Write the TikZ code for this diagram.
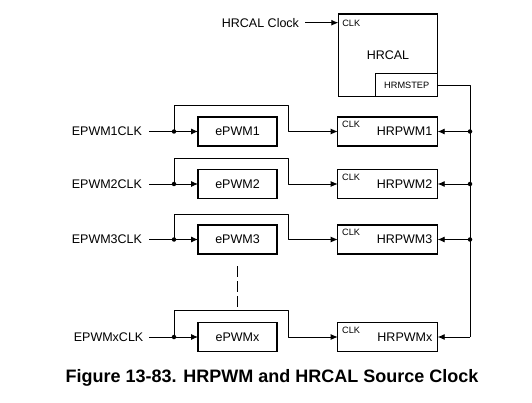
\documentclass[tikz,border=0pt]{standalone}
\usepackage{fontspec}
\setmainfont{Liberation Sans}
\usetikzlibrary{arrows.meta}

\begin{document}
\begin{tikzpicture}[x=1pt,y=1pt,
  blockbox/.style={draw=drawColor,line width=1.5pt,inner sep=0pt,outer sep=0pt,minimum height=29pt,font=\fontsize{12.5}{14}\selectfont},
  sigtext/.style={text=drawColor,anchor=east,inner sep=0pt,outer sep=0pt,font=\fontsize{12.5}{14}\selectfont},
  clktext/.style={text=drawColor,anchor=north west,inner sep=0pt,outer sep=0pt,font=\fontsize{9.2}{10}\selectfont},
  wire/.style={draw=drawColor,line width=0.9pt,line join=round},
  feed/.style={wire,-{Latex[length=7pt,width=6pt]}},
  tap/.style={circle,fill=drawColor,inner sep=0pt,minimum size=4.5pt}]
\definecolor{fillColor}{RGB}{255,255,255}
\definecolor{drawColor}{RGB}{0,0,0}
\path[use as bounding box,fill=fillColor] (0,0) rectangle (532,402);

% calibration block
\node[blockbox,minimum width=99.4pt,minimum height=82.7pt] (hrcal) at (388.0,346.7) {HRCAL};
\node[blockbox,minimum width=62pt,minimum height=23.4pt,font=\fontsize{9.2}{10}\selectfont] (hrmstep) at (406.7,317.0) {HRMSTEP};
\node[clktext] (hrcalclk) at ([shift={(4,-6.5)}]hrcal.north west) {CLK};
\node[sigtext] (hrcalin) at (299.0,379.3) {HRCAL Clock};
\path[feed] ([xshift=6pt]hrcalin.east) -- (hrcal.west |- hrcalin.east);

% bus from HRMSTEP
\coordinate (busx) at (470.0,65.0);
\path[wire] (hrmstep.east) -| (busx);

% row 1
\node[sigtext] (clkin1) at (142.0,270.5) {EPWM1CLK};
\node[blockbox,minimum width=79pt] (epwm1) at (237.5,270.5) {ePWM1};
\node[blockbox,minimum width=100pt] (hrpwm1) at (387.7,270.5) {};
\node[sigtext] (hrpwmlbl1) at ([xshift=-5.4pt]hrpwm1.east) {HRPWM1};
\node[clktext] (hrpwmclk1) at ([shift={(4.5,-4.5)}]hrpwm1.north west) {CLK};
\coordinate (loopa1) at (174.0,296.3);
\coordinate (loopb1) at (288.3,296.3);
\path[feed] ([xshift=7pt]clkin1.east) -- (epwm1.west);
\path[feed] (clkin1.east -| loopa1) -- (loopa1) -- (loopb1) |- (hrpwm1.west);
\node[tap] (tap1) at (clkin1.east -| loopa1) {};
\node[tap] (bus1) at (470.0,270.5) {};
\path[feed] (bus1.center) -- (hrpwm1.east);

% row 2
\node[sigtext] (clkin2) at (142.0,218.0) {EPWM2CLK};
\node[blockbox,minimum width=79pt] (epwm2) at (237.5,218.0) {ePWM2};
\node[blockbox,minimum width=100pt] (hrpwm2) at (387.7,218.0) {};
\node[sigtext] (hrpwmlbl2) at ([xshift=-5.4pt]hrpwm2.east) {HRPWM2};
\node[clktext] (hrpwmclk2) at ([shift={(4.5,-4.5)}]hrpwm2.north west) {CLK};
\coordinate (loopa2) at (174.0,243.7);
\coordinate (loopb2) at (288.3,243.7);
\path[feed] ([xshift=7pt]clkin2.east) -- (epwm2.west);
\path[feed] (clkin2.east -| loopa2) -- (loopa2) -- (loopb2) |- (hrpwm2.west);
\node[tap] (tap2) at (clkin2.east -| loopa2) {};
\node[tap] (bus2) at (470.0,218.0) {};
\path[feed] (bus2.center) -- (hrpwm2.east);

% row 3
\node[sigtext] (clkin3) at (142.0,162.5) {EPWM3CLK};
\node[blockbox,minimum width=79pt] (epwm3) at (237.5,162.5) {ePWM3};
\node[blockbox,minimum width=100pt] (hrpwm3) at (387.7,162.5) {};
\node[sigtext] (hrpwmlbl3) at ([xshift=-5.4pt]hrpwm3.east) {HRPWM3};
\node[clktext] (hrpwmclk3) at ([shift={(4.5,-4.5)}]hrpwm3.north west) {CLK};
\coordinate (loopa3) at (174.0,188.0);
\coordinate (loopb3) at (288.3,188.0);
\path[feed] ([xshift=7pt]clkin3.east) -- (epwm3.west);
\path[feed] (clkin3.east -| loopa3) -- (loopa3) -- (loopb3) |- (hrpwm3.west);
\node[tap] (tap3) at (clkin3.east -| loopa3) {};
\node[tap] (bus3) at (470.0,162.5) {};
\path[feed] (bus3.center) -- (hrpwm3.east);

% gap
\coordinate (gapa) at (237.7,136.0);
\coordinate (gapb) at (237.7,95.3);
\path[wire,dash pattern=on 10.5pt off 4.6pt] (gapa) -- (gapb);

% row x
\node[sigtext] (clkinx) at (143.3,65.0) {EPWMxCLK};
\node[blockbox,minimum width=79pt] (epwmx) at (237.5,65.0) {ePWMx};
\node[blockbox,minimum width=100pt] (hrpwmx) at (387.7,65.0) {};
\node[sigtext] (hrpwmlblx) at ([xshift=-5.4pt]hrpwmx.east) {HRPWMx};
\node[clktext] (hrpwmclkx) at ([shift={(4.5,-4.5)}]hrpwmx.north west) {CLK};
\coordinate (loopax) at (174.0,92.0);
\coordinate (loopbx) at (288.3,92.0);
\path[feed] ([xshift=5.7pt]clkinx.east) -- (epwmx.west);
\path[feed] (clkinx.east -| loopax) -- (loopax) -- (loopbx) |- (hrpwmx.west);
\node[tap] (tapx) at (clkinx.east -| loopax) {};
\path[feed] (busx) -- (hrpwmx.east);

\node[text=drawColor,anchor=base,inner sep=0pt,outer sep=0pt,font=\fontsize{18}{20}\selectfont\bfseries] (caption) at (272.0,19.3) {Figure 13-83. HRPWM and HRCAL Source Clock};
\end{tikzpicture}
\end{document}
